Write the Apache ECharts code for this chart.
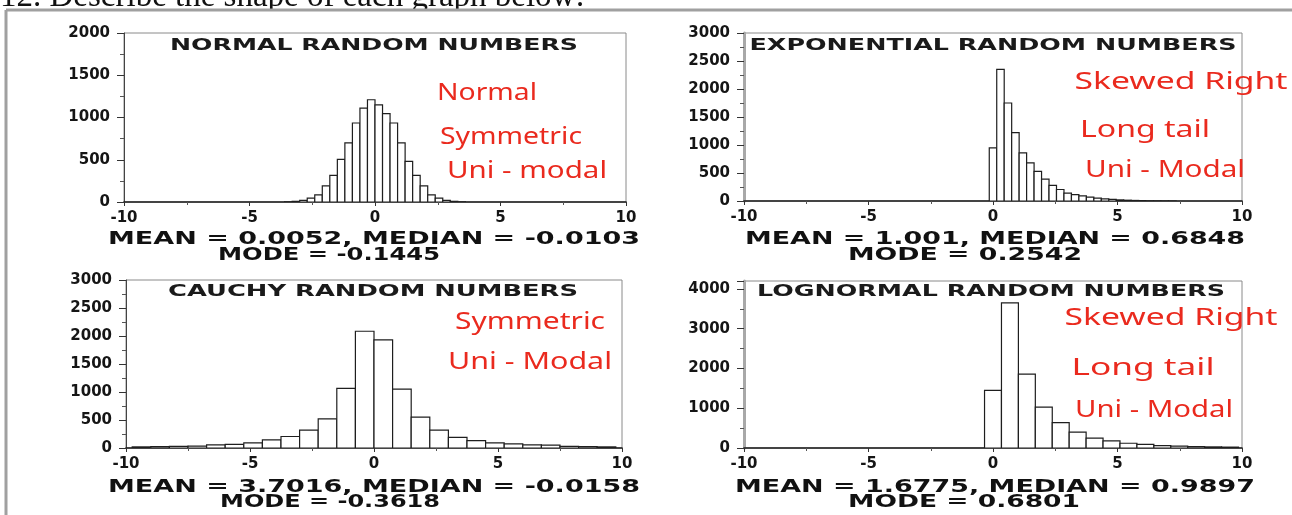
<!DOCTYPE html>
<html><head><meta charset="utf-8">
<script src="https://cdn.jsdelivr.net/npm/echarts@6/dist/echarts.min.js"></script>
<style>html,body{margin:0;padding:0;background:#fff;overflow:hidden}#c{width:1292px;height:515px}</style>
</head><body><div id="c"></div>
<script>
// ---------------- DATA ----------------
const xTicks = [-10, -5, 0, 5, 10];

const normalFirstCenter = -3.45;
const normalBinWidth = 0.3;
const normalCounts = [3, 8, 20, 45, 85, 190, 315, 505, 700, 935, 1110, 1210, 1150, 1045, 935, 700, 480, 315, 190, 85, 45, 20, 8, 3];

const expFirstCenter = 0;
const expBinWidth = 0.3;
const expCounts = [950, 2350, 1750, 1220, 860, 680, 530, 390, 280, 205, 140, 115, 90, 70, 52, 38, 28, 20, 14, 10, 7, 5, 4, 3, 2];

const cauchyFirstCenter = -9.375;
const cauchyBinWidth = 0.75;
const cauchyCounts = [20, 25, 30, 35, 55, 65, 90, 145, 205, 320, 520, 1065, 2085, 1930, 1050, 550, 320, 190, 130, 90, 75, 55, 50, 30, 25, 20];

const lognFirstCenter = 0;
const lognBinWidth = 0.68;
const lognCounts = [1450, 3650, 1860, 1030, 640, 400, 250, 180, 120, 90, 62, 48, 36, 28, 22];

const panelTitles = ['NORMAL RANDOM NUMBERS', 'EXPONENTIAL RANDOM NUMBERS', 'CAUCHY RANDOM NUMBERS', 'LOGNORMAL RANDOM NUMBERS'];
const statLine1 = ['MEAN = 0.0052, MEDIAN = -0.0103', 'MEAN = 1.001, MEDIAN = 0.6848', 'MEAN = 3.7016, MEDIAN = -0.0158', 'MEAN = 1.6775, MEDIAN = 0.9897'];
const statLine2 = ['MODE = -0.1445', 'MODE = 0.2542', 'MODE = -0.3618', 'MODE = 0.6801'];
const yMax = [2000, 3000, 3000, 4200];
const yInterval = [500, 500, 500, 1000];
const notes = [
  ['Normal', 'Symmetric', 'Uni - modal'],
  ['Skewed Right', 'Long tail', 'Uni - Modal'],
  ['Symmetric', 'Uni - Modal'],
  ['Skewed Right', 'Long tail', 'Uni - Modal']
];
const headerText = '12. Describe the shape of each graph below:';

// ---------------- LAYOUT ----------------
const grids = [
  {left: 124, top: 33, width: 502, height: 169},
  {left: 744, top: 33, width: 498, height: 168},
  {left: 126, top: 280, width: 496, height: 168},
  {left: 744, top: 281, width: 498, height: 167}
];
const yAxisLine = [
  {color: '#444', width: 1},
  {color: '#a8a8a8', width: 3},
  {color: '#444', width: 1},
  {color: '#a8a8a8', width: 3}
];
const titlePos = [[374, 46, 408], [993, 46, 487], [373, 292, 410], [991, 292, 468]];
const stat1Pos = [[374, 240, 532], [995, 240, 500], [374, 488, 532], [995, 488, 520]];
const stat2Pos = [[329, 256, 222], [965, 256, 234], [330, 503, 220], [964, 503, 232]];
const notePos = [
  [[487, 93, 100], [511, 137, 142], [527, 171, 160]],
  [[1181, 82, 213], [1145, 130, 130], [1165, 170, 160]],
  [[530, 322, 150], [530, 362, 164]],
  [[1171, 318, 213], [1143, 368, 143], [1154, 410, 158]]
];

// ---------------- HELPERS ----------------
const mctx = document.createElement('canvas').getContext('2d');
function measure(text, size, weight, family) {
  mctx.font = weight + ' ' + size + 'px ' + family;
  return mctx.measureText(text).width;
}
function stretchedText(text, cx, cy, targetW, size, weight, family, color) {
  const w = measure(text, size, weight, family);
  return {
    type: 'text', x: cx, y: cy, scaleX: targetW / w, z: 100,
    style: {
      text: text, fontSize: size, fontWeight: weight, fontFamily: family, fill: color,
      textAlign: 'center', textVerticalAlign: 'middle', align: 'center', verticalAlign: 'middle'
    }
  };
}
function binData(first, width, counts) {
  return counts.map((c, i) => [first + i * width, c, width]);
}
function renderBar(params, api) {
  const c = api.value(0), v = api.value(1), w = api.value(2);
  const p1 = api.coord([c - w / 2, v]);
  const p2 = api.coord([c + w / 2, 0]);
  return {
    type: 'rect',
    shape: {x: p1[0], y: p1[1], width: p2[0] - p1[0], height: p2[1] - p1[1]},
    style: {fill: '#ffffff', stroke: '#1e1e1e', lineWidth: 1.2}
  };
}

const tickFont = {fontFamily: '"DejaVu Sans"', fontWeight: 'bold', fontSize: 15, color: '#151515', formatter: v => String(v)};

const datasets = [
  binData(normalFirstCenter, normalBinWidth, normalCounts),
  binData(expFirstCenter, expBinWidth, expCounts),
  binData(cauchyFirstCenter, cauchyBinWidth, cauchyCounts),
  binData(lognFirstCenter, lognBinWidth, lognCounts)
];

const option = {
  animation: false,
  backgroundColor: '#ffffff',
  grid: grids.map(g => Object.assign({show: true, borderColor: '#8a8a8a', borderWidth: 1, backgroundColor: 'transparent'}, g)),
  xAxis: grids.map((g, i) => ({
    gridIndex: i, type: 'value', min: xTicks[0], max: xTicks[xTicks.length - 1], interval: xTicks[1] - xTicks[0],
    axisLine: {show: true, onZero: false, lineStyle: {color: '#1a1a1a', width: 1.6}},
    axisTick: {show: true, length: 4, lineStyle: {color: '#333'}},
    minorTick: {show: true, splitNumber: 2, length: 3, lineStyle: {color: '#555'}},
    splitLine: {show: false},
    axisLabel: Object.assign({margin: 9, showMinLabel: true, showMaxLabel: true}, tickFont)
  })),
  yAxis: grids.map((g, i) => ({
    gridIndex: i, type: 'value', min: 0, max: yMax[i], interval: yInterval[i],
    axisLine: {show: true, onZero: false, lineStyle: yAxisLine[i]},
    axisTick: {show: true, length: 7, lineStyle: {color: '#333'}},
    minorTick: {show: true, splitNumber: 2, length: 4, lineStyle: {color: '#555'}},
    splitLine: {show: false},
    axisLabel: Object.assign({margin: 14}, tickFont)
  })),
  series: datasets.map((d, i) => ({
    type: 'custom', xAxisIndex: i, yAxisIndex: i, renderItem: renderBar, data: d, clip: true
  })),
  graphic: []
};

const g = [];
// page frame & header
g.push({type: 'text', x: 0, y: 14, z: 80, style: {text: headerText, fontSize: 33, fontFamily: '"Liberation Serif"', fill: '#111', textVerticalAlign: 'bottom', verticalAlign: 'bottom'}});
g.push({type: 'rect', z: 85, shape: {x: 0, y: 10, width: 1292, height: 6}, style: {fill: '#ffffff'}});
g.push({type: 'line', z: 90, shape: {x1: 6, y1: 10, x2: 1292, y2: 10}, style: {stroke: '#a0a0a0', lineWidth: 3}});
g.push({type: 'line', z: 90, shape: {x1: 6, y1: 10, x2: 6, y2: 515}, style: {stroke: '#a0a0a0', lineWidth: 3}});

for (let i = 0; i < 4; i++) {
  g.push(stretchedText(panelTitles[i], titlePos[i][0], titlePos[i][1], titlePos[i][2], 15, 'bold', '"DejaVu Sans"', '#1a1a1a'));
  g.push(stretchedText(statLine1[i], stat1Pos[i][0], stat1Pos[i][1], stat1Pos[i][2], 17, 'bold', '"DejaVu Sans"', '#111'));
  g.push(stretchedText(statLine2[i], stat2Pos[i][0], stat2Pos[i][1], stat2Pos[i][2], 17, 'bold', '"DejaVu Sans"', '#111'));
  notes[i].forEach((t, k) => {
    const p = notePos[i][k];
    g.push(stretchedText(t, p[0], p[1], p[2], 24, 'normal', '"Noto Sans"', '#ea2a1e'));
  });
}
option.graphic = g;

const chart = echarts.init(document.getElementById('c'), null, {renderer: 'canvas', width: 1292, height: 515});
chart.setOption(option);
</script>
</body></html>
